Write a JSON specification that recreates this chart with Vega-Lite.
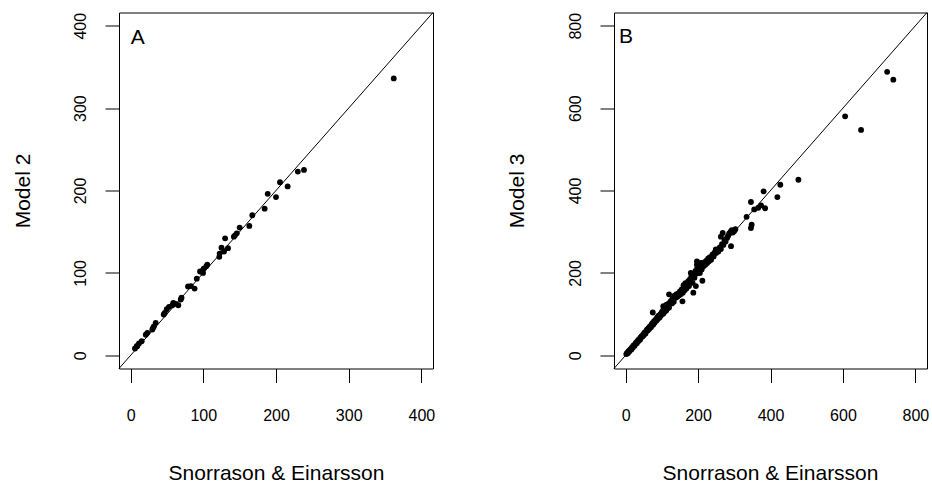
{
  "$schema": "https://vega.github.io/schema/vega-lite/v6.json",
  "padding": {"left": 11, "top": 9.5, "right": 0, "bottom": 0},
  "bounds": "flush",
  "spacing": 181,
  "background": "white",
  "config": {
    "font": "Liberation Sans",
    "view": {"stroke": "black", "strokeWidth": 1},
    "axis": {
      "domain": false, "grid": false, "ticks": true, "tickColor": "black", "tickSize": 14, "tickWidth": 1,
      "labelFontSize": 16, "labelColor": "black", "labelFlush": false, "labelOverlap": false,
      "titleFontSize": 21, "titleFontWeight": "normal", "titleColor": "black"
    },
    "axisX": {"labelPadding": 25, "titleBaseline": "alphabetic", "titleY": 111, "titleAlign": "center"},
    "axisY": {"labelPadding": 17, "labelAngle": 270, "labelAlign": "center", "labelBaseline": "bottom", "titleBaseline": "alphabetic", "titleAngle": 270, "titleAlign": "center", "titleY": 178}
  },
  "datasets": {
    "ptsA": [
      {"se": 362, "m": 336}, {"se": 230, "m": 223}, {"se": 238.5, "m": 225}, {"se": 205.5, "m": 210}, {"se": 216, "m": 205},
      {"se": 200, "m": 192}, {"se": 188.6, "m": 196}, {"se": 184.4, "m": 178}, {"se": 167.4, "m": 170}, {"se": 163.3, "m": 157},
      {"se": 150, "m": 155}, {"se": 146, "m": 148}, {"se": 143.6, "m": 145.6}, {"se": 142, "m": 144}, {"se": 130, "m": 142},
      {"se": 134, "m": 130}, {"se": 125, "m": 130.5}, {"se": 122.5, "m": 123.5}, {"se": 122, "m": 119.5}, {"se": 128.5, "m": 126},
      {"se": 104, "m": 108}, {"se": 105.5, "m": 110}, {"se": 100.5, "m": 105}, {"se": 98, "m": 102}, {"se": 99.6, "m": 100},
      {"se": 95.5, "m": 101.7}, {"se": 91, "m": 93}, {"se": 88, "m": 81}, {"se": 83, "m": 84}, {"se": 79, "m": 83.5},
      {"se": 70, "m": 70}, {"se": 69, "m": 67.7}, {"se": 65.6, "m": 60.8}, {"se": 62, "m": 62.5}, {"se": 58.7, "m": 63.7},
      {"se": 57.4, "m": 60.8}, {"se": 52.8, "m": 58.8}, {"se": 49.7, "m": 56}, {"se": 47, "m": 51.6}, {"se": 45.5, "m": 49.5},
      {"se": 34.5, "m": 39.4}, {"se": 32, "m": 35}, {"se": 30.8, "m": 33.4}, {"se": 29.9, "m": 31.3}, {"se": 23, "m": 27.3},
      {"se": 20.8, "m": 25}, {"se": 15.2, "m": 17.1}, {"se": 11.5, "m": 14.3}, {"se": 9, "m": 11}, {"se": 8.4, "m": 11}, {"se": 6, "m": 8.3}
    ],
    "ptsB": [
      {"se": 722, "m": 688}, {"se": 739, "m": 669}, {"se": 606, "m": 580}, {"se": 650, "m": 547}, {"se": 477, "m": 426},
      {"se": 427, "m": 414}, {"se": 419, "m": 384}, {"se": 381, "m": 398}, {"se": 346, "m": 372}, {"se": 366, "m": 358},
      {"se": 355, "m": 354}, {"se": 385, "m": 357}, {"se": 374, "m": 364}, {"se": 348, "m": 317}, {"se": 346, "m": 309},
      {"se": 334, "m": 336}, {"se": 291, "m": 265}, {"se": 268, "m": 297}, {"se": 263, "m": 288}, {"se": 180, "m": 200},
      {"se": 182, "m": 192}, {"se": 187, "m": 152}, {"se": 157, "m": 131}, {"se": 194, "m": 168}, {"se": 212, "m": 181},
      {"se": 201, "m": 200}, {"se": 120, "m": 148}, {"se": 113, "m": 123}, {"se": 104, "m": 119}, {"se": 75, "m": 104},
      {"se": 197, "m": 228}, {"se": 197, "m": 220}, {"se": 249, "m": 257},
      {"se": 2, "m": 3}, {"se": 4, "m": 6}, {"se": 6, "m": 5}, {"se": 8, "m": 10}, {"se": 10, "m": 9}, {"se": 12, "m": 13},
      {"se": 14, "m": 15}, {"se": 16, "m": 14}, {"se": 18, "m": 20}, {"se": 20, "m": 19}, {"se": 22, "m": 24}, {"se": 25, "m": 23},
      {"se": 27, "m": 28}, {"se": 29, "m": 31}, {"se": 31, "m": 29}, {"se": 33, "m": 35}, {"se": 35, "m": 34}, {"se": 37, "m": 39},
      {"se": 40, "m": 38}, {"se": 42, "m": 44}, {"se": 44, "m": 46}, {"se": 46, "m": 45}, {"se": 48, "m": 50}, {"se": 50, "m": 49},
      {"se": 52, "m": 55}, {"se": 55, "m": 53}, {"se": 57, "m": 59}, {"se": 59, "m": 62}, {"se": 61, "m": 60}, {"se": 63, "m": 66},
      {"se": 65, "m": 64}, {"se": 67, "m": 70}, {"se": 70, "m": 68}, {"se": 72, "m": 75}, {"se": 74, "m": 78}, {"se": 76, "m": 74},
      {"se": 78, "m": 82}, {"se": 80, "m": 79}, {"se": 82, "m": 86}, {"se": 85, "m": 84}, {"se": 87, "m": 92}, {"se": 89, "m": 88},
      {"se": 91, "m": 96}, {"se": 94, "m": 92}, {"se": 96, "m": 100}, {"se": 98, "m": 97}, {"se": 100, "m": 104}, {"se": 102, "m": 108},
      {"se": 104, "m": 101}, {"se": 106, "m": 112}, {"se": 108, "m": 106}, {"se": 110, "m": 118}, {"se": 112, "m": 109}, {"se": 114, "m": 122},
      {"se": 116, "m": 114}, {"se": 118, "m": 125}, {"se": 120, "m": 116}, {"se": 122, "m": 128}, {"se": 125, "m": 132}, {"se": 128, "m": 126},
      {"se": 130, "m": 138}, {"se": 133, "m": 130}, {"se": 135, "m": 145}, {"se": 138, "m": 140}, {"se": 140, "m": 148}, {"se": 143, "m": 142},
      {"se": 145, "m": 150}, {"se": 148, "m": 146}, {"se": 150, "m": 155}, {"se": 153, "m": 149}, {"se": 155, "m": 160}, {"se": 158, "m": 152},
      {"se": 160, "m": 170}, {"se": 163, "m": 158}, {"se": 165, "m": 175}, {"se": 168, "m": 162}, {"se": 170, "m": 172}, {"se": 173, "m": 180},
      {"se": 175, "m": 168}, {"se": 178, "m": 185}, {"se": 180, "m": 178}, {"se": 183, "m": 190}, {"se": 185, "m": 176}, {"se": 188, "m": 195},
      {"se": 190, "m": 188}, {"se": 193, "m": 205}, {"se": 195, "m": 198}, {"se": 198, "m": 212}, {"se": 200, "m": 204}, {"se": 203, "m": 218},
      {"se": 205, "m": 200}, {"se": 208, "m": 224}, {"se": 210, "m": 208}, {"se": 213, "m": 222}, {"se": 215, "m": 216}, {"se": 218, "m": 226},
      {"se": 220, "m": 220}, {"se": 223, "m": 230}, {"se": 225, "m": 224}, {"se": 228, "m": 235}, {"se": 230, "m": 228}, {"se": 233, "m": 238},
      {"se": 236, "m": 232}, {"se": 240, "m": 245}, {"se": 243, "m": 240}, {"se": 246, "m": 250}, {"se": 250, "m": 248}, {"se": 253, "m": 256},
      {"se": 256, "m": 252}, {"se": 260, "m": 262}, {"se": 263, "m": 258}, {"se": 266, "m": 270}, {"se": 270, "m": 268}, {"se": 273, "m": 280},
      {"se": 276, "m": 276}, {"se": 280, "m": 285}, {"se": 283, "m": 290}, {"se": 286, "m": 296}, {"se": 290, "m": 300}, {"se": 293, "m": 304},
      {"se": 296, "m": 298}, {"se": 300, "m": 302}, {"se": 303, "m": 306}
    ],
    "lineA": [{"se": -16, "m": -16}, {"se": 416, "m": 416}],
    "lineB": [{"se": -32, "m": -32}, {"se": 832, "m": 832}],
    "labA": [{"se": 0, "m": 378, "t": "A"}],
    "labB": [{"se": -18, "m": 757, "t": "B"}]
  },
  "hconcat": [
    {
      "width": 314, "height": 356,
      "encoding": {
        "x": {"field": "se", "type": "quantitative", "title": "Snorrason & Einarsson",
              "scale": {"domain": [-16, 416], "nice": false, "zero": false},
              "axis": {"values": [0, 100, 200, 300, 400], "titleX": 157}},
        "y": {"field": "m", "type": "quantitative", "title": "Model 2",
              "scale": {"domain": [-16, 416], "nice": false, "zero": false},
              "axis": {"values": [0, 100, 200, 300, 400], "titleX": -90}}
      },
      "layer": [
        {"data": {"name": "lineA"}, "mark": {"type": "line", "color": "black", "strokeWidth": 1}},
        {"data": {"name": "ptsA"}, "mark": {"type": "circle", "color": "black", "opacity": 1, "size": 34}},
        {"data": {"name": "labA"}, "mark": {"type": "text", "align": "left", "baseline": "alphabetic", "fontSize": 21, "color": "black"},
         "encoding": {"text": {"field": "t"}}}
      ]
    },
    {
      "width": 313, "height": 356,
      "encoding": {
        "x": {"field": "se", "type": "quantitative", "title": "Snorrason & Einarsson",
              "scale": {"domain": [-32, 832], "nice": false, "zero": false},
              "axis": {"values": [0, 200, 400, 600, 800], "titleX": 156}},
        "y": {"field": "m", "type": "quantitative", "title": "Model 3",
              "scale": {"domain": [-32, 832], "nice": false, "zero": false},
              "axis": {"values": [0, 200, 400, 600, 800], "titleX": -91}}
      },
      "layer": [
        {"data": {"name": "lineB"}, "mark": {"type": "line", "color": "black", "strokeWidth": 1}},
        {"data": {"name": "ptsB"}, "mark": {"type": "circle", "color": "black", "opacity": 1, "size": 34}},
        {"data": {"name": "labB"}, "mark": {"type": "text", "align": "left", "baseline": "alphabetic", "fontSize": 21, "color": "black"},
         "encoding": {"text": {"field": "t"}}}
      ]
    }
  ]
}
